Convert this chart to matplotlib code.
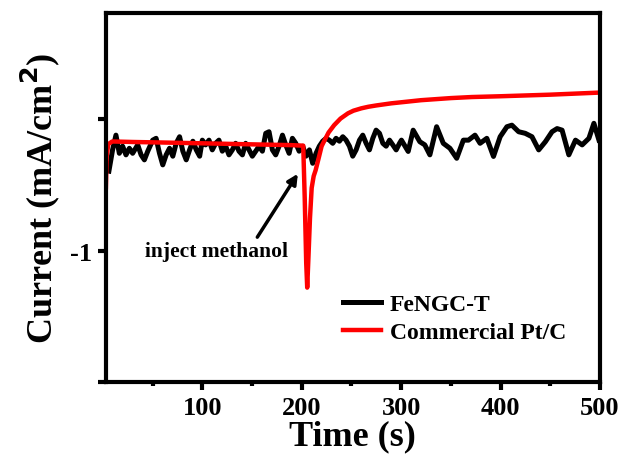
import matplotlib
matplotlib.use("Agg")
import matplotlib.pyplot as plt
from matplotlib.ticker import FixedLocator

plt.rcParams['font.family'] = ['Liberation Serif', 'DejaVu Serif']
plt.rcParams['font.weight'] = 'bold'

# FeNGC-T (black) : time (s), current (mA/cm^2)
fe_t = [6.0, 9.7, 13.1, 16.5, 19.8, 23.2, 26.6, 29.9, 35.0, 38.4, 41.7, 45.1, 50.1, 53.5,
        56.9, 60.2, 63.6, 67.0, 70.3, 73.7, 77.1, 80.4, 83.8, 87.2, 90.5, 93.9, 97.3,
        100.0, 103.3, 106.7, 110.0, 113.4, 116.7, 120.1, 123.5, 126.8, 130.2, 133.5, 136.9,
        140.3, 143.6, 147.0, 150.3, 153.7, 157.1, 160.4, 163.8, 167.1, 170.5, 173.8, 177.2,
        180.6, 183.9, 187.3, 190.6, 194.0, 197.4,
        201.0, 204.3, 207.7, 211.0, 214.4, 217.7, 221.1, 224.5, 227.8, 231.2, 234.5, 237.9,
        241.3, 244.6, 248.0, 251.3, 254.7, 258.1, 261.4, 264.8, 268.1, 271.5, 274.8, 278.2,
        281.6, 284.9, 288.3, 291.6, 295.0, 298.4,
        300.3, 307.1, 312.1, 318.8, 323.8, 328.9, 335.7, 342.4, 349.1, 355.9, 362.6,
        367.7, 374.3, 379.4, 386.2, 392.9, 399.6, 406.4, 411.4, 418.2, 424.8, 431.6, 438.4,
        445.1, 451.8, 456.9, 461.9, 468.7, 475.4, 482.1, 488.9, 493.9, 499.0]
fe_i = [-0.698, -0.617, -0.561, -0.630, -0.603, -0.636, -0.611, -0.630, -0.598, -0.636, -0.655, -0.622, -0.580, -0.573,
        -0.630, -0.674, -0.636, -0.611, -0.641, -0.592, -0.567, -0.622, -0.655, -0.617, -0.584, -0.617, -0.641,
        -0.580, -0.598, -0.580, -0.617, -0.592, -0.580, -0.622, -0.603, -0.636, -0.617, -0.592, -0.622,
        -0.636, -0.592, -0.617, -0.641, -0.622, -0.603, -0.622, -0.554, -0.548, -0.617, -0.636, -0.603,
        -0.561, -0.598, -0.630, -0.573, -0.592, -0.622,
        -0.603, -0.641, -0.617, -0.668, -0.630, -0.603, -0.584, -0.573, -0.580, -0.592, -0.573, -0.584,
        -0.567, -0.580, -0.603, -0.641, -0.617, -0.580, -0.561, -0.592, -0.617, -0.573, -0.542, -0.554,
        -0.592, -0.603, -0.580, -0.598, -0.617, -0.592,
        -0.580, -0.623, -0.542, -0.586, -0.598, -0.636, -0.529, -0.592, -0.611, -0.649, -0.580,
        -0.580, -0.561, -0.592, -0.573, -0.642, -0.567, -0.529, -0.523, -0.548, -0.554, -0.567, -0.617,
        -0.586, -0.548, -0.536, -0.542, -0.636, -0.580, -0.598, -0.573, -0.516, -0.580]

# Commercial Pt/C (red)
pt_t = [3.0, 3.8, 5.4, 9.4, 30, 60, 100, 150, 190, 201.5, 203.0, 204.5, 205.5, 206.7, 208.3,
        210.0, 212.0, 214.0, 217.0, 220.0, 222.5, 227.0, 232.6, 239.0, 246.5, 252.0, 259.9, 267.0,
        275, 290, 305, 320, 335, 350, 371, 400, 450, 500]
pt_i = [-0.759, -0.640, -0.595, -0.585, -0.587, -0.589, -0.592, -0.596, -0.599, -0.601, -0.800, -1.047,
        -1.141, -1.030, -0.876, -0.762, -0.717, -0.694, -0.649, -0.603, -0.584, -0.551, -0.523, -0.498,
        -0.478, -0.468, -0.459, -0.453, -0.448, -0.440, -0.434, -0.428, -0.424, -0.420, -0.416, -0.413,
        -0.407, -0.399]

series_labels = ['FeNGC-T', 'Commercial Pt/C']
xticks = [100, 200, 300, 400, 500]
yticks = [-1.5, -1.0, -0.5]
ytick_labels = ['', '-1', '']

fig = plt.figure(figsize=(6.23, 4.64), dpi=100)
ax = fig.add_axes([0.170, 0.1746, 0.793, 0.7954])

ax.plot(fe_t, fe_i, color='black', lw=3.6, label=series_labels[0], solid_joinstyle='round')
ax.plot(pt_t, pt_i, color='#ff0000', lw=3.2, label=series_labels[1], solid_joinstyle='round')

ax.set_xlim(3, 500)
ax.set_ylim(-1.5, -0.096)
ax.set_xticks(xticks)
ax.xaxis.set_minor_locator(FixedLocator([50, 150, 250, 350, 450]))
ax.set_yticks(yticks)
ax.set_yticklabels(ytick_labels)

for s in ax.spines.values():
    s.set_linewidth(3)
ax.tick_params(axis='both', which='major', direction='out', length=6, width=3, labelsize=19, pad=4)
ax.tick_params(axis='both', which='minor', direction='out', length=3, width=3)
for lab in ax.get_xticklabels() + ax.get_yticklabels():
    lab.set_fontweight('bold')

ax.set_xlabel('Time (s)', fontsize=26, fontweight='bold', labelpad=0)
ax.set_ylabel('Current (mA/cm$^\\mathbf{2}$)', fontsize=26, fontweight='bold', labelpad=6)

ax.text(114, -1.0, 'inject methanol', fontsize=15.5, fontweight='bold', ha='center', va='center')
ax.annotate('', xy=(197.6, -0.699), xytext=(153.8, -0.958),
            arrowprops=dict(arrowstyle='-|>,head_length=0.6,head_width=0.3', color='black', lw=2.5))

leg = ax.legend(loc='lower right', bbox_to_anchor=(0.975, 0.047), frameon=False,
                handlelength=1.6, handletextpad=0.4, labelspacing=0.3,
                prop={'weight': 'bold', 'size': 17})

fig.savefig('out.png', dpi=100)
